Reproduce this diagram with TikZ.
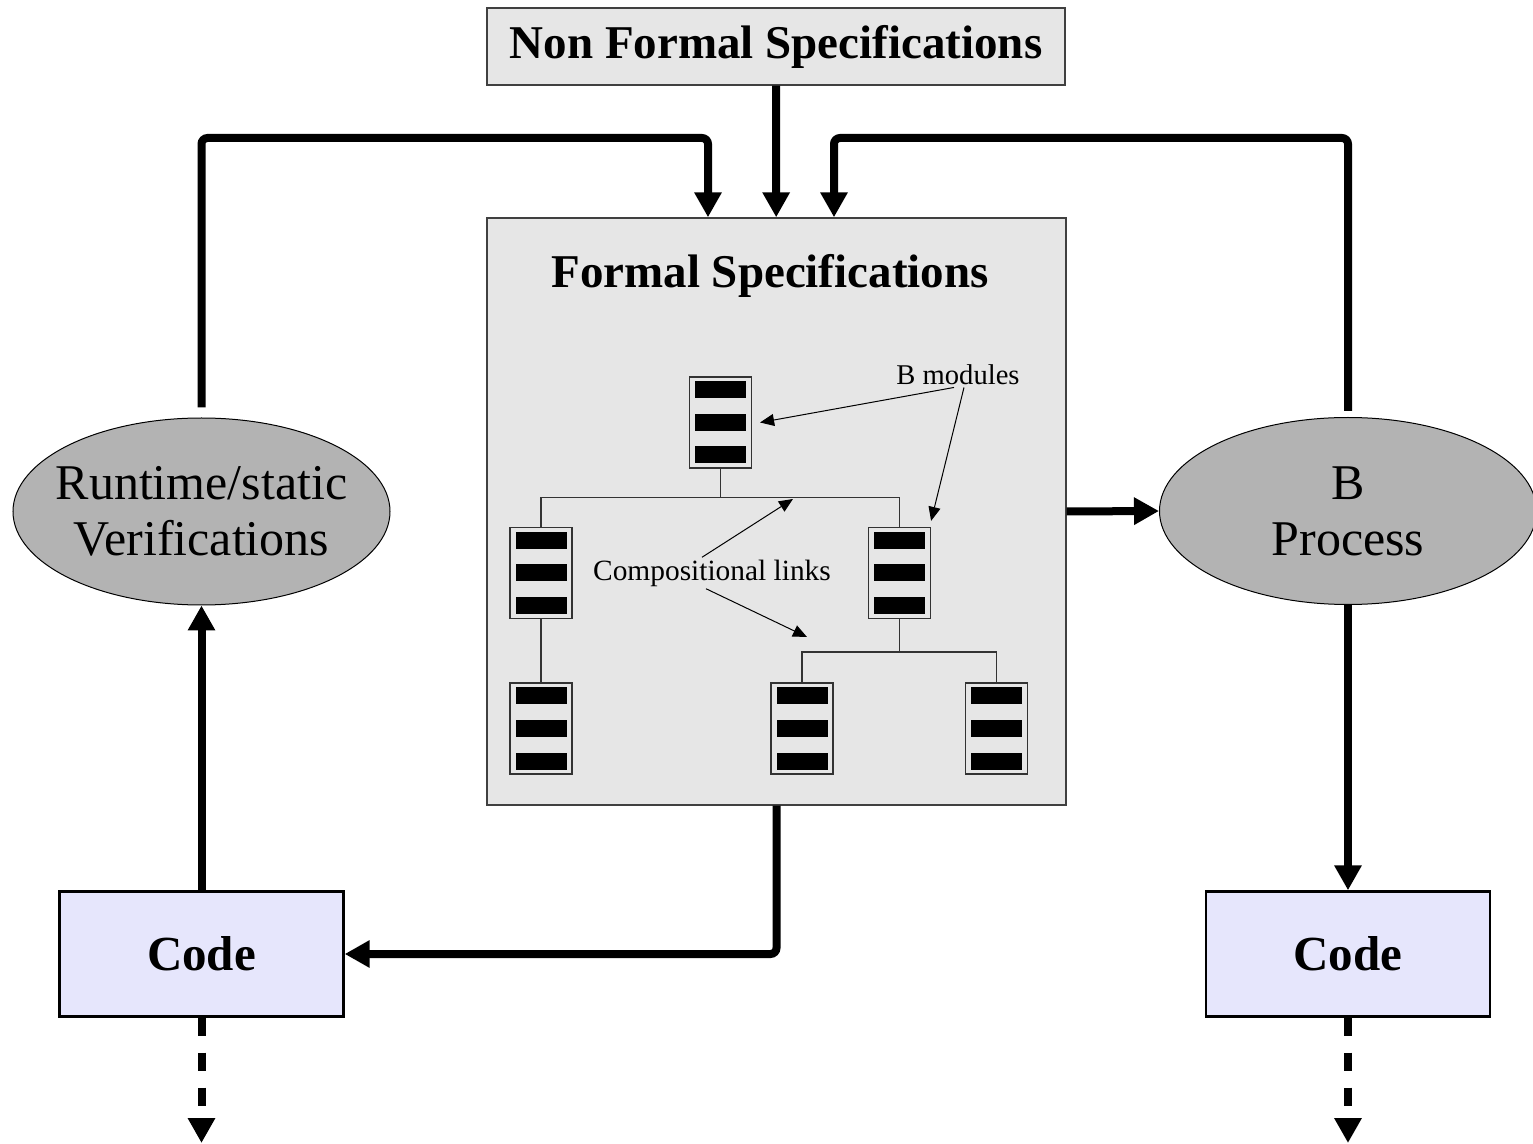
\documentclass[tikz,border=0pt]{standalone}
\usepackage{fontspec}
\setmainfont{Liberation Serif}
\usetikzlibrary{arrows.meta,shapes.geometric,positioning}
\definecolor{specgray}{RGB}{230,230,230}
\definecolor{ovalgray}{RGB}{179,179,179}
\definecolor{codeblue}{RGB}{230,230,252}

\tikzset{
  flow/.style={line width=4pt,-{Triangle[length=12.5pt,width=13pt]}},
  dashflow/.style={flow,dash pattern=on 9pt off 8.5pt},
  note/.style={line width=0.5pt,-{Triangle[length=7pt,width=6pt]}},
  specbox/.style={draw=black!75,fill=specgray,line width=0.7pt,inner sep=0pt},
  oval/.style={ellipse,draw=black,fill=ovalgray,line width=0.5pt,minimum width=188.5pt,
    minimum height=93.5pt,inner xsep=-8pt,inner ysep=0pt,align=center,font=\fontsize{25}{28}\selectfont},
  codebox/.style={draw,fill=codeblue,line width=1.2pt,minimum width=142pt,minimum height=62.5pt,
    font=\fontsize{24.5}{28}\selectfont\bfseries},
  bmod/.style={draw=black!80,fill=specgray,line width=0.6pt,minimum width=31pt,minimum height=45.5pt,
    inner sep=0pt,path picture={\foreach \dy in {-16.25pt,0pt,16.25pt}
      \fill[black] ([shift={(-12.75pt,\dy-4.25pt)}]path picture bounding box.center) rectangle ++(25.5pt,8.5pt);}},
}

\begin{document}
\begin{tikzpicture}[x=0.5pt,y=-0.5pt]
  \useasboundingbox (0,0) rectangle (1533,1144);

  % Specification boxes
  \node[specbox,minimum width=289pt,minimum height=38.5pt,font=\fontsize{23.5}{28}\selectfont\bfseries]
    (nfs) at (776,46.5) {Non Formal Specifications};
  \node[specbox,minimum width=289.5pt,minimum height=293.5pt] (fs) at (776.5,511.5) {};
  \node[font=\fontsize{23.5}{28}\selectfont\bfseries] (fstitle) at (770,276) {Formal Specifications};

  % Processes and code
  \node[oval] (verif) at (201.5,511.5) {Runtime/static\\Verifications};
  \node[oval] (bproc) at (1348,511) {B\\Process};
  \node[codebox] (codeL) at (201.5,954) {Code};
  \node[codebox] (codeR) at (1348,954) {Code};

  % B modules
  \node[bmod] (m1) at (720.5,422.5) {};
  \node[bmod] (m2) at (541,573) {};
  \node[bmod] (m3) at (899.5,573) {};
  \node[bmod] (m4) at (541,728.5) {};
  \node[bmod] (m5) at (802,728.5) {};
  \node[bmod] (m6) at (996.5,728.5) {};

  % Compositional links
  \draw[black!80,line width=0.6pt] (m1.south) -- ++(0,29) coordinate (j1);
  \draw[black!80,line width=0.6pt] (m2.north) |- (j1) -| (m3.north);
  \draw[black!80,line width=0.6pt] (m2.south) -- (m4.north);
  \draw[black!80,line width=0.6pt] (m3.south) -- ++(0,33) coordinate (j2);
  \draw[black!80,line width=0.6pt] (m5.north) |- (j2) -| (m6.north);

  % Labels
  \node[font=\fontsize{14.3}{16}\selectfont,inner sep=1pt] (lblmod) at (958,375) {B modules};
  \node[font=\fontsize{14.7}{16}\selectfont,inner sep=1pt] (lbllink) at (712,573) {Compositional links};
  \coordinate (lk1) at (793,499);
  \coordinate (lk2) at (807,637);
  \draw[note] ([xshift=-2pt]lblmod.south) -- ([xshift=4pt]m1.east);
  \draw[note] ([xshift=3pt]lblmod.south) -- ([yshift=3pt]m3.north east);
  \draw[note] ([xshift=-5pt]lbllink.north) -- (lk1);
  \draw[note] ([xshift=-3pt]lbllink.south) -- (lk2);

  % Flow arrows
  \coordinate (topL) at (708,138);
  \coordinate (topR) at (834,138);
  \coordinate (endL) at (201.5,1143);
  \coordinate (endR) at (1348,1143);
  \draw[flow] (nfs) -- (fs);
  \draw[flow,rounded corners=3pt] ([yshift=5pt]verif.north) |- (topL) -- (topL |- fs.north);
  \draw[flow,rounded corners=3pt] ([yshift=3pt]bproc.north) |- (topR) -- (topR |- fs.north);
  \draw[flow] (fs.east) -- (bproc.west);
  \draw[flow] (bproc.south) -- (codeR.north);
  \draw[flow,rounded corners=3pt] (fs.south) |- (codeL.east);
  \draw[flow] (codeL) -- (verif);
  \draw[dashflow] (codeL) -- (endL);
  \draw[dashflow] (codeR) -- (endR);
\end{tikzpicture}
\end{document}
